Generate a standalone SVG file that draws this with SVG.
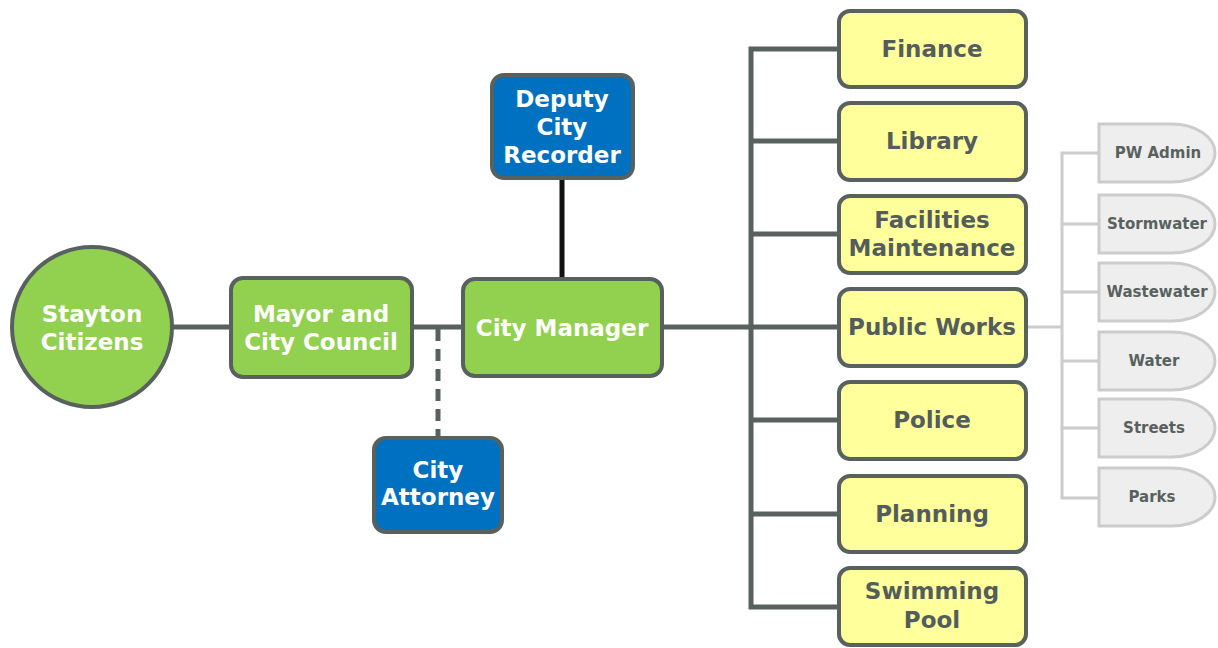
<svg xmlns="http://www.w3.org/2000/svg" width="1218" height="648" viewBox="0 0 1218 648">
  <style>
    text { font-family: "DejaVu Sans", Verdana, sans-serif; font-weight: bold; text-anchor: middle; }
    .green { fill: #92d050; stroke: #59615f; stroke-width: 4; }
    .blue { fill: #0070c0; stroke: #59615f; stroke-width: 4; }
    .yellow { fill: #ffff9c; stroke: #59615f; stroke-width: 4; }
    .tab { fill: #eeeeee; stroke: #cccccc; stroke-width: 3; }
    .w { fill: #ffffff; font-size: 23px; }
    .d { fill: #545d5c; font-size: 23px; }
    .s { fill: #59615f; font-size: 15px; }
    .link { stroke: #59615f; stroke-width: 5; fill: none; }
    .sub { stroke: #cccccc; stroke-width: 3; fill: none; }
  </style>
  <rect width="1218" height="648" fill="#ffffff"/>

  <g id="connectors">
    <line class="link" x1="170" y1="327" x2="232" y2="327"/>
    <line class="link" x1="411" y1="327" x2="464" y2="327"/>
    <line class="link" x1="661" y1="327" x2="840" y2="327"/>
    <line x1="562" y1="177" x2="562" y2="280" stroke="#111111" stroke-width="5"/>
    <line class="link" x1="438" y1="329" x2="438" y2="439" stroke-dasharray="12 8"/>
    <path class="link" d="M840,49 H751 V607 H840"/>
    <line class="link" x1="751" y1="141" x2="840" y2="141"/>
    <line class="link" x1="751" y1="234" x2="840" y2="234"/>
    <line class="link" x1="751" y1="420" x2="840" y2="420"/>
    <line class="link" x1="751" y1="514" x2="840" y2="514"/>
    <line class="sub" x1="1027" y1="327" x2="1062" y2="327"/>
    <path class="sub" d="M1099,153 H1062 V498 H1099"/>
    <line class="sub" x1="1062" y1="224" x2="1099" y2="224"/>
    <line class="sub" x1="1062" y1="292" x2="1099" y2="292"/>
    <line class="sub" x1="1062" y1="361" x2="1099" y2="361"/>
    <line class="sub" x1="1062" y1="428" x2="1099" y2="428"/>
  </g>

  <g id="stayton-citizens">
    <circle class="green" cx="92" cy="327" r="80"/>
    <text class="w" x="92" y="322">Stayton</text>
    <text class="w" x="92" y="350">Citizens</text>
  </g>

  <g id="mayor-council">
    <rect class="green" x="231" y="278" width="181" height="99" rx="12"/>
    <text class="w" x="321" y="322">Mayor and</text>
    <text class="w" x="321" y="350">City Council</text>
  </g>

  <g id="city-manager">
    <rect class="green" x="463" y="279" width="199" height="97" rx="12"/>
    <text class="w" x="562" y="336">City Manager</text>
  </g>

  <g id="deputy-city-recorder">
    <rect class="blue" x="492" y="75" width="141" height="103" rx="12"/>
    <text class="w" x="562" y="107">Deputy</text>
    <text class="w" x="562" y="135">City</text>
    <text class="w" x="562" y="163">Recorder</text>
  </g>

  <g id="city-attorney">
    <rect class="blue" x="374" y="438" width="128" height="94" rx="12"/>
    <text class="w" x="438" y="478">City</text>
    <text class="w" x="438" y="505">Attorney</text>
  </g>

  <g id="finance">
    <rect class="yellow" x="839" y="11" width="187" height="76" rx="11"/>
    <text class="d" x="932" y="57">Finance</text>
  </g>
  <g id="library">
    <rect class="yellow" x="839" y="103" width="187" height="77" rx="11"/>
    <text class="d" x="932" y="149">Library</text>
  </g>
  <g id="facilities-maintenance">
    <rect class="yellow" x="839" y="196" width="187" height="77" rx="11"/>
    <text class="d" x="932" y="228">Facilities</text>
    <text class="d" x="932" y="256">Maintenance</text>
  </g>
  <g id="public-works">
    <rect class="yellow" x="839" y="289" width="187" height="77" rx="11"/>
    <text class="d" x="932" y="335">Public Works</text>
  </g>
  <g id="police">
    <rect class="yellow" x="839" y="382" width="187" height="77" rx="11"/>
    <text class="d" x="932" y="428">Police</text>
  </g>
  <g id="planning">
    <rect class="yellow" x="839" y="476" width="187" height="76" rx="11"/>
    <text class="d" x="932" y="522">Planning</text>
  </g>
  <g id="swimming-pool">
    <rect class="yellow" x="839" y="568" width="187" height="77" rx="11"/>
    <text class="d" x="932" y="599">Swimming</text>
    <text class="d" x="932" y="628">Pool</text>
  </g>

  <g id="pw-admin">
    <path class="tab" d="M1099,124 H1172 A43,29 0 0 1 1172,182 H1099 Z"/>
    <text class="s" x="1158" y="158">PW Admin</text>
  </g>
  <g id="stormwater">
    <path class="tab" d="M1099,195 H1172 A43,29 0 0 1 1172,253 H1099 Z"/>
    <text class="s" x="1157" y="229">Stormwater</text>
  </g>
  <g id="wastewater">
    <path class="tab" d="M1099,263 H1172 A43,29 0 0 1 1172,321 H1099 Z"/>
    <text class="s" x="1157" y="297">Wastewater</text>
  </g>
  <g id="water">
    <path class="tab" d="M1099,332 H1172 A43,29 0 0 1 1172,390 H1099 Z"/>
    <text class="s" x="1154" y="366">Water</text>
  </g>
  <g id="streets">
    <path class="tab" d="M1099,399 H1172 A43,29 0 0 1 1172,457 H1099 Z"/>
    <text class="s" x="1154" y="433">Streets</text>
  </g>
  <g id="parks">
    <path class="tab" d="M1099,468 H1172 A43,29 0 0 1 1172,526 H1099 Z"/>
    <text class="s" x="1152" y="502">Parks</text>
  </g>
</svg>
